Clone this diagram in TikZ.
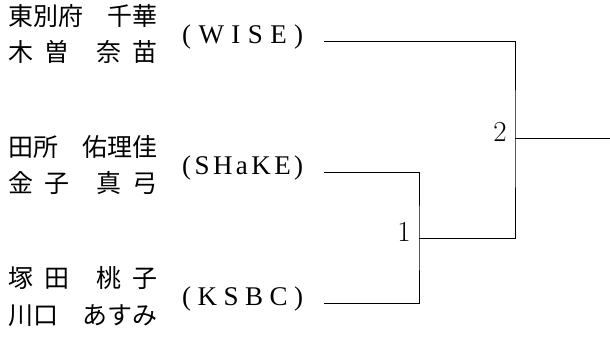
\documentclass[tikz,border=0pt]{standalone}
\usepackage{fontspec}
\newfontfamily\jpfont{Noto Sans CJK JP}
\newfontfamily\teamfont{Liberation Serif}
\newcommand\teamspread[1]{\makebox[121pt][s]{#1}}
\begin{document}
\begin{tikzpicture}[x=1pt,y=-1pt,
  namestyle/.style={anchor=west,inner sep=0pt,font=\jpfont\fontsize{25}{25}\selectfont,text height=0.88em,text depth=0.12em},
  teamstyle/.style={anchor=west,inner sep=0pt,font=\teamfont\fontsize{27}{27}\selectfont,text height=0.72em,text depth=0.22em},
  numstyle/.style={anchor=east,inner sep=0pt,font=\fontsize{29}{29}\selectfont,text height=0.65em,text depth=0pt},
  bracket/.style={line width=1pt,black}]
\useasboundingbox (0,0) rectangle (610,340);
% WISE
\node[namestyle] (n1a) at (8,21.5) {東別府\hspace{24pt}千華};
\node[namestyle] (n1b) at (8,57.5) {木\hspace{11pt}曽\hspace{27pt}奈\hspace{11pt}苗};
\node[teamstyle] (t1) at (182,41) {\teamspread{(\hfill W\hfill I\hfill S\hfill E\hfill)}};
% SHaKE
\node[namestyle] (n2a) at (8,153) {田所\hspace{24pt}佑理佳};
\node[namestyle] (n2b) at (8,189) {金\hspace{11pt}子\hspace{27pt}真\hspace{11pt}弓};
\node[teamstyle] (t2) at (182,172) {\teamspread{(\hfill S\hfill H\hfill a\hfill K\hfill E\hfill)}};
% KSBC
\node[namestyle] (n3a) at (8,284) {塚\hspace{11pt}田\hspace{27pt}桃\hspace{11pt}子};
\node[namestyle] (n3b) at (8,321) {川口\hspace{24pt}あすみ};
\node[teamstyle] (t3) at (182,303) {\teamspread{(\hfill K\hfill S\hfill B\hfill C\hfill)}};
% bracket points
\coordinate (a1) at (324,41);
\coordinate (a2) at (324,172);
\coordinate (a3) at (324,303);
\coordinate (m1) at (419,238);
\coordinate (m2) at (515,138);
\coordinate (win) at (610,138);
\draw[bracket] (a2) -| (m1) |- (a3);
\draw[bracket] (m1) -| (m2) |- (a1);
\draw[bracket] (m2) -- (win);
\node[numstyle] (l1) at ([xshift=-8pt]m1) {1};
\node[numstyle] (l2) at ([xshift=-8pt]m2) {2};
\end{tikzpicture}
\end{document}
